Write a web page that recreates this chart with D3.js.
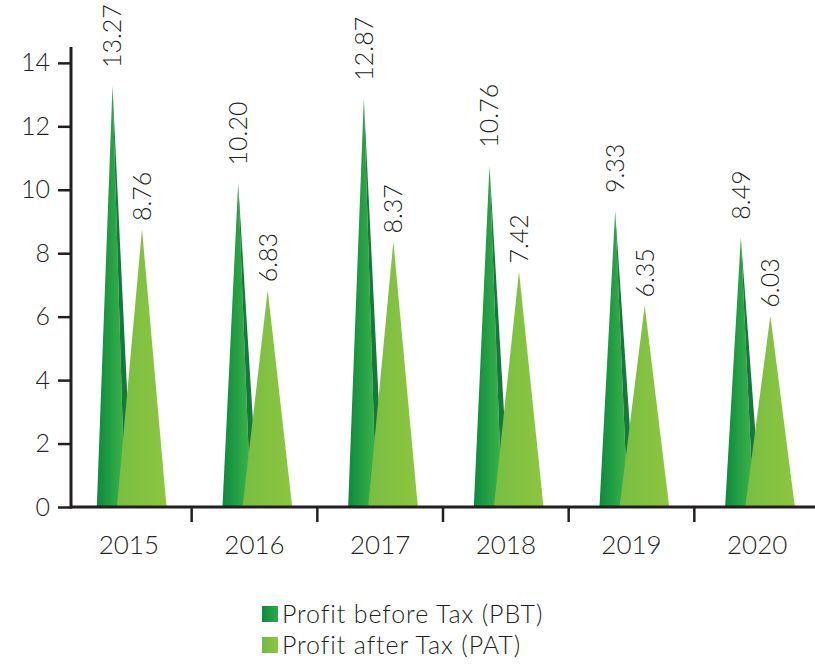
<!DOCTYPE html>
<html>
<head>
<meta charset="utf-8">
<script src="https://cdn.jsdelivr.net/npm/d3@7"></script>
<style>
  body { margin: 0; background: #fff; }
  text { font-family: Lato, "Liberation Sans", sans-serif; font-weight: 300; fill: #231f20; }
</style>
</head>
<body>
<div id="chart"></div>
<script>
var years = ["2015", "2016", "2017", "2018", "2019", "2020"];
var pbt = [13.27, 10.20, 12.87, 10.76, 9.33, 8.49];
var pat = [8.76, 6.83, 8.37, 7.42, 6.35, 6.03];
var yTicks = [0, 2, 4, 6, 8, 10, 12, 14];
var seriesNames = ["Profit before Tax (PBT)", "Profit after Tax (PAT)"];

var svg = d3.select("#chart")
    .append("svg")
    .attr("width", 815)
    .attr("height", 666);

var x = d3.scaleBand().domain(years).range([66, 820]);
var y = d3.scaleLinear().domain([0, 14.5]).range([507, 47]);

// gradients
var defs = svg.append("defs");
function grad(id, c1, c2) {
  var g = defs.append("linearGradient").attr("id", id)
      .attr("x1", "0%").attr("x2", "100%").attr("y1", "0%").attr("y2", "0%");
  g.append("stop").attr("offset", "0%").attr("stop-color", c1);
  g.append("stop").attr("offset", "100%").attr("stop-color", c2);
}
grad("pbtFront", "#0c8a3e", "#3db54a");
grad("patFront", "#78bd43", "#8dc63f");
grad("legPbt", "#0c8a3e", "#2fa948");
grad("legPat", "#6fba44", "#8dc63f");

var bw = x.bandwidth();
var line = d3.line();

var groups = svg.append("g").selectAll("g")
    .data(years)
    .enter().append("g");

groups.each(function(d, i) {
  var g = d3.select(this);
  var c = x(d) + bw / 2;
  var base = y(0);

  // PBT pyramid: front face + darker side face
  var pk = [c - 0.13 * bw, y(pbt[i])];
  g.append("path")
    .attr("d", line([pk, [c - 0.255 * bw, base], [c - 0.03 * bw, base]]) + "Z")
    .attr("fill", "url(#pbtFront)");
  g.append("path")
    .attr("d", line([pk, [c - 0.03 * bw, base], [c + 0.03 * bw, base]]) + "Z")
    .attr("fill", "#16783a");

  // PAT pyramid
  var pk2 = [c + 0.105 * bw, y(pat[i])];
  g.append("path")
    .attr("d", line([pk2, [c - 0.095 * bw, base], [c + 0.30 * bw, base]]) + "Z")
    .attr("fill", "url(#patFront)");

  // labels
  g.append("text")
    .attr("transform", "translate(" + pk[0] + "," + (pk[1] - 18) + ") rotate(-90)")
    .attr("dy", "0.36em")
    .style("font-size", "25px")
    .text(pbt[i].toFixed(2));
  g.append("text")
    .attr("transform", "translate(" + pk2[0] + "," + (pk2[1] - 8) + ") rotate(-90)")
    .attr("dy", "0.36em")
    .style("font-size", "25px")
    .text(pat[i].toFixed(2));
});

// y axis
var yAxis = svg.append("g")
    .attr("transform", "translate(71,0)")
    .call(d3.axisLeft(y).tickValues(yTicks).tickSize(13).tickPadding(8));
yAxis.select(".domain").remove();
yAxis.selectAll(".tick line").attr("stroke", "#231f20").attr("stroke-width", 2.5);
yAxis.selectAll(".tick text").style("font-size", "25px").attr("fill", "#231f20");
svg.append("line")
    .attr("x1", 71).attr("x2", 71)
    .attr("y1", y.range()[1]).attr("y2", y(0) + 1.5)
    .attr("stroke", "#231f20").attr("stroke-width", 3);

// x axis
var xAxis = svg.append("g")
    .attr("transform", "translate(0," + y(0) + ")")
    .call(d3.axisBottom(x).tickSize(0).tickPadding(29));
xAxis.select(".domain").remove();
xAxis.selectAll(".tick text").style("font-size", "26px").attr("fill", "#231f20");
svg.append("line")
    .attr("x1", 70).attr("x2", 815)
    .attr("y1", y(0)).attr("y2", y(0))
    .attr("stroke", "#231f20").attr("stroke-width", 3);
svg.append("g").selectAll("line")
    .data(years.slice(1))
    .enter().append("line")
    .attr("x1", function(d) { return x(d); })
    .attr("x2", function(d) { return x(d); })
    .attr("y1", y(0))
    .attr("y2", y(0) + 15)
    .attr("stroke", "#231f20").attr("stroke-width", 2.5);

// legend
var legend = svg.append("g").attr("transform", "translate(262,606)");
seriesNames.forEach(function(n, i) {
  var row = legend.append("g").attr("transform", "translate(0," + (i * 31) + ")");
  row.append("rect")
    .attr("width", 16).attr("height", 16)
    .attr("fill", i === 0 ? "url(#legPbt)" : "url(#legPat)");
  row.append("text")
    .attr("x", 20).attr("y", 8)
    .attr("dy", "0.36em")
    .style("font-size", "25px")
    .style("letter-spacing", "0.9px")
    .text(n);
});
</script>
</body>
</html>
